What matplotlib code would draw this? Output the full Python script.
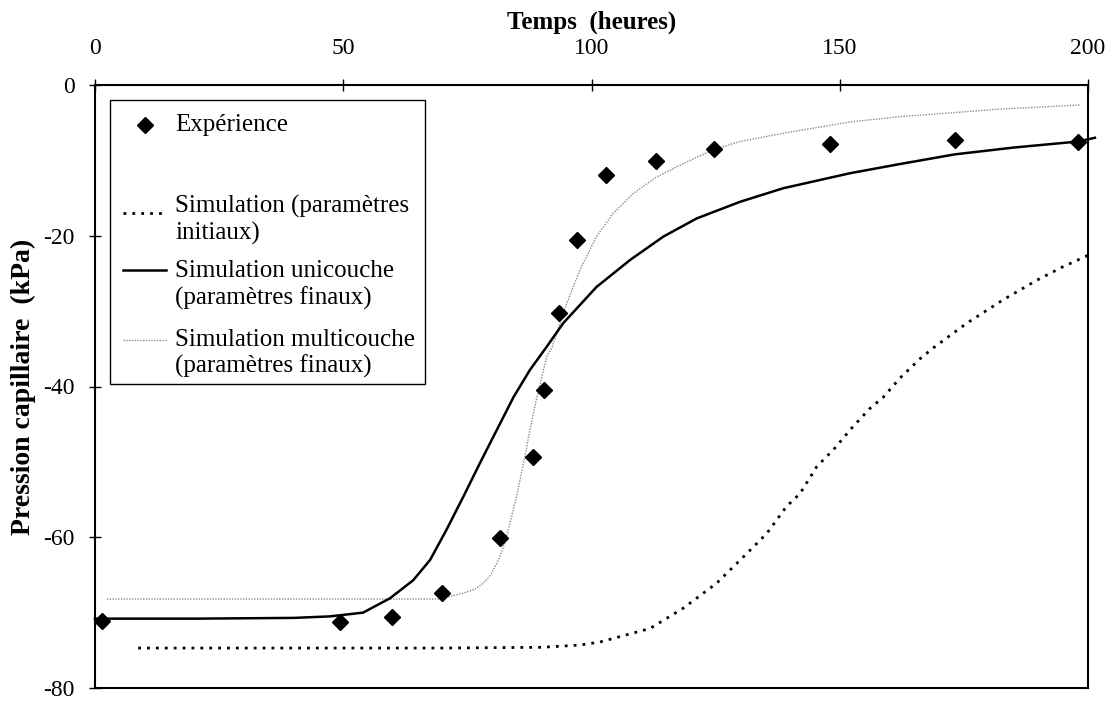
import matplotlib
matplotlib.use("Agg")
import matplotlib.pyplot as plt
from matplotlib.patches import Rectangle

# ---------------- data ----------------
exp_t = [1.4, 49.3, 59.8, 69.9, 81.6, 88.3, 90.4, 93.5, 97.0, 102.9, 112.9, 124.7, 148.0, 173.2, 198.0]
exp_p = [-71.1, -71.2, -70.6, -67.4, -60.1, -49.3, -40.4, -30.2, -20.5, -12.0, -10.1, -8.5, -7.8, -7.3, -7.5]

init_t = [8.7, 40, 70, 90, 97.7, 101.7, 111.8, 118.5, 125.2, 130.6, 135.3, 139.3, 142.0, 145.4, 148.7,
          152.7, 156.1, 158.8, 162.1, 166.2, 168.8, 172.9, 175.6, 179.6, 182.9, 189.7, 195.0, 200.0]
init_p = [-74.7, -74.7, -74.7, -74.6, -74.3, -73.9, -72.1, -69.4, -66.1, -62.6, -59.5, -55.9, -54.2, -50.6, -48.4,
          -45.3, -42.9, -41.4, -38.9, -36.3, -34.9, -32.9, -31.6, -29.9, -28.5, -25.9, -24.1, -22.6]

uni_t = [0, 20, 40, 47.3, 54.0, 59.4, 64.1, 67.5, 70.8, 74.2, 77.5, 80.9, 84.3, 87.6, 91.0, 94.3,
         101.0, 107.8, 114.5, 121.2, 129.9, 138.6, 152.1, 162.0, 173.2, 185.0, 198.0, 201.4]
uni_p = [-70.8, -70.8, -70.7, -70.5, -70.0, -68.1, -65.7, -63.0, -59.0, -54.6, -50.2, -45.8, -41.4, -37.8, -34.7, -31.6,
         -26.8, -23.2, -20.1, -17.7, -15.5, -13.7, -11.7, -10.5, -9.2, -8.3, -7.5, -7.0]

multi_t = [2.4, 40, 69.5, 74.2, 76.5, 78.2, 79.7, 80.9, 82.0, 82.9, 84.9, 86.3, 87.6, 89.0, 91.0, 92.0, 95.0, 97.7, 101.0,
           104.4, 108.4, 113.1, 119.2, 124.5, 129.9, 138.6, 152.1, 162.1, 182.3, 198.4]
multi_p = [-68.2, -68.2, -68.2, -67.4, -66.9, -66.1, -65.0, -63.5, -61.8, -59.9, -54.6, -50.2, -45.8, -41.4, -36.0, -34.9, -29.0, -24.5, -20.1,
           -17.0, -14.4, -12.2, -10.2, -8.6, -7.5, -6.4, -4.9, -4.2, -3.2, -2.65]

x_ticks = [0, 50, 100, 150, 200]
y_ticks = [0, -20, -40, -60, -80]

legend_labels = ["Expérience",
                 "Simulation (paramètres\ninitiaux)",
                 "Simulation unicouche\n(paramètres finaux)",
                 "Simulation multicouche\n(paramètres finaux)"]

# ---------------- style ----------------
plt.rcParams['font.family'] = ['Liberation Serif', 'DejaVu Serif']
plt.rcParams['axes.unicode_minus'] = False
FS_TICK = 17
FS_LEG = 18
FS_LAB = 18

fig = plt.figure(figsize=(11.14, 7.02), dpi=100)
ax = fig.add_axes([95/1114, 1-688/702, (1088-95)/1114, (688-85)/702])

gray = '#8a8a8a'
dot_init = dict(color='black', lw=2.0, linestyle=(0, (1, 2.2)))
solid_uni = dict(color='black', lw=1.8)
dot_multi = dict(color=gray, lw=1.0, linestyle=(0, (1, 1)))

ax.plot(init_t, init_p, **dot_init)
ax.plot(multi_t, multi_p, **dot_multi)
ax.plot(uni_t, uni_p, clip_on=False, **solid_uni)
ax.plot(exp_t, exp_p, linestyle='none', marker='D', markersize=8, color='black', clip_on=False, zorder=5)

ax.set_xlim(0, 200)
ax.set_ylim(-80, 0)
ax.set_xticks(x_ticks)
ax.set_yticks(y_ticks)
ax.xaxis.tick_top()
ax.xaxis.set_label_position('top')
ax.tick_params(axis='x', which='both', top=True, bottom=False, direction='inout', length=9, width=1,
               labelsize=FS_TICK, pad=14)
ax.tick_params(axis='y', which='both', left=True, right=False, direction='inout', length=9, width=1,
               labelsize=FS_TICK, pad=10)
for s in ax.spines.values():
    s.set_linewidth(1.5)

ax.set_xlabel("Temps  (heures)", fontsize=FS_LAB, fontweight='bold', labelpad=7)
ax.set_ylabel("Pression capillaire  (kPa)", fontsize=FS_LAB + 2, fontweight='bold', labelpad=5)

# ---------------- legend (drawn in axes coordinates) ----------------
tr = ax.transAxes
ax.add_patch(Rectangle((0.015, 0.504), 0.317, 0.471, transform=tr, facecolor='white',
                       edgecolor='black', lw=1.0, zorder=6))
hx0, hx1, tx = 0.028, 0.072, 0.0806
ax.plot([0.0504], [0.9337], transform=tr, marker='D', markersize=8, color='black', linestyle='none', zorder=7)
ax.text(tx, 0.9337, legend_labels[0], transform=tr, fontsize=FS_LEG, va='center', ha='left', zorder=7)

rows = [(0.7877, (0.7993, 0.7546), dot_init),
        (0.6932, (0.6915, 0.6468), solid_uni),
        (0.5771, (0.5771, 0.5340), dot_multi)]
for (hy, (y1, y2), style), lab in zip(rows, legend_labels[1:]):
    ax.plot([hx0, hx1], [hy, hy], transform=tr, zorder=7, **style)
    line1, line2 = lab.split("\n")
    ax.text(tx, y1, line1, transform=tr, fontsize=FS_LEG, va='center', ha='left', zorder=7)
    ax.text(tx, y2, line2, transform=tr, fontsize=FS_LEG, va='center', ha='left', zorder=7)

fig.savefig("out.png", dpi=100)
